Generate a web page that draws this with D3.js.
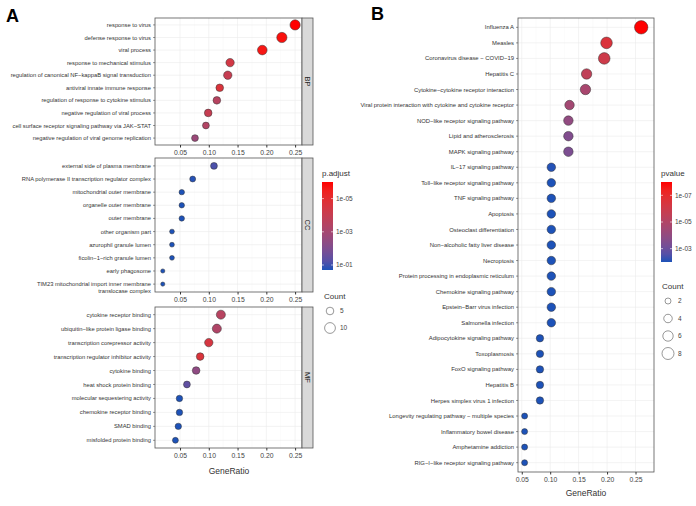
<!DOCTYPE html><html><head><meta charset="utf-8"><script src="https://cdn.jsdelivr.net/npm/d3@7"></script>
<style>body{margin:0;background:#fff}text{font-family:"Liberation Sans",Arial,sans-serif}</style></head><body><svg id="c" width="696" height="506"></svg>
<script>
const bpTerms=["response to virus","defense response to virus","viral process","response to mechanical stimulus","regulation of canonical NF\u2212kappaB signal transduction","antiviral innate immune response","regulation of response to cytokine stimulus","negative regulation of viral process","cell surface receptor signaling pathway via JAK\u2212STAT","negative regulation of viral genome replication"];
const bpRatio=[0.250,0.227,0.193,0.137,0.133,0.119,0.114,0.099,0.095,0.076];
const bpCount=[9,9,8,6,6,5,5,5,4,4];
const bpP=[1e-6,1.5e-6,2e-6,4e-5,1e-4,2e-5,3e-4,1e-4,4e-4,2e-3];
const ccTerms=["external side of plasma membrane","RNA polymerase II transcription regulator complex","mitochondrial outer membrane","organelle outer membrane","outer membrane","other organism part","azurophil granule lumen","ficolin\u22121\u2212rich granule lumen","early phagosome","TIM23 mitochondrial import inner membrane\ntranslocase complex"];
const ccRatio=[0.109,0.072,0.053,0.053,0.053,0.036,0.036,0.036,0.020,0.020];
const ccCount=[4,3,2.5,2.5,2.5,2,2,2,1.5,1.5];
const ccP=[0.08,0.18,0.2,0.2,0.2,0.2,0.2,0.2,0.2,0.2];
const mfTerms=["cytokine receptor binding","ubiquitin\u2212like protein ligase binding","transcription corepressor activity","transcription regulator inhibitor activity","cytokine binding","heat shock protein binding","molecular sequestering activity","chemokine receptor binding","SMAD binding","misfolded protein binding"];
const mfRatio=[0.121,0.114,0.100,0.085,0.078,0.062,0.049,0.049,0.047,0.042];
const mfCount=[7,7,6,5,5,4,3.5,3.5,3.5,3];
const mfP=[3e-4,5e-4,3e-5,2e-5,4e-3,4e-2,0.2,0.2,0.2,0.2];
const aTicks=[0.05,0.10,0.15,0.20,0.25];
const keggTerms=["Influenza A","Measles","Coronavirus disease \u2212 COVID\u221219","Hepatitis C","Cytokine\u2212cytokine receptor interaction","Viral protein interaction with cytokine and cytokine receptor","NOD\u2212like receptor signaling pathway","Lipid and atherosclerosis","MAPK signaling pathway","IL\u221217 signaling pathway","Toll\u2212like receptor signaling pathway","TNF signaling pathway","Apoptosis","Osteoclast differentiation","Non\u2212alcoholic fatty liver disease","Necroptosis","Protein processing in endoplasmic reticulum","Chemokine signaling pathway","Epstein\u2212Barr virus infection","Salmonella infection","Adipocytokine signaling pathway","Toxoplasmosis","FoxO signaling pathway","Hepatitis B","Herpes simplex virus 1 infection","Longevity regulating pathway \u2212 multiple species","Inflammatory bowel disease","Amphetamine addiction","RIG\u2212I\u2212like receptor signaling pathway"];
const keggRatio=[0.26,0.199,0.195,0.164,0.162,0.134,0.132,0.132,0.132,0.102,0.102,0.102,0.102,0.102,0.102,0.102,0.102,0.102,0.102,0.102,0.082,0.082,0.082,0.082,0.082,0.055,0.055,0.055,0.055];
const keggCount=[10,7.5,7.5,6,6,5,5,5,5,4,4,4,4,4,4,4,4,4,4,4,3,3,3,3,3,2,2,2,2];
const keggP=[1e-8,3e-7,1e-6,3e-6,2e-5,3e-5,1e-4,3e-4,4e-4,9e-3,1e-2,1e-2,1e-2,1e-2,1e-2,1e-2,1e-2,1e-2,1e-2,1e-2,1e-2,1e-2,1e-2,1e-2,1e-2,1e-2,1e-2,1e-2,1e-2];
const bTicks=[0.05,0.10,0.15,0.20,0.25];
const aColTicks=["1e-05","1e-03","1e-01"], aColVals=[1e-5,1e-3,1e-1];
const bColTicks=["1e-07","1e-05","1e-03"], bColVals=[1e-7,1e-5,1e-3];
const aSize=[5,10], bSize=[2,4,6,8];

const svg=d3.select("#c");
const LOW="#1d52b8",HIGH="#ff0000";
const interp=d3.interpolateLab(LOW,HIGH);
function colorScale(pmin,pmax){const s=d3.scaleLog().domain([pmax,pmin]).range([0,1]).clamp(true);return p=>interp(s(p));}
const colA=colorScale(1e-6,0.2), colB=colorScale(1e-8,1e-2);
const rA=d3.scaleSqrt().domain([0,10]).range([0,5.4]);
const rB=d3.scaleSqrt().domain([0,8]).range([0,6]);

function panel(g,terms,ratio,count,pv,x,top,bottom,left,right,col,rs,fs,strip,ticks,pad){
  const y=d3.scalePoint().domain(terms).range([top,bottom]).padding(pad);
  g.append("rect").attr("x",left).attr("y",top).attr("width",right-left).attr("height",bottom-top).attr("fill","#fff");
  const gr=g.append("g");
  ticks.forEach(t=>gr.append("line").attr("x1",x(t)).attr("x2",x(t)).attr("y1",top).attr("y2",bottom).attr("stroke","#ebebeb").attr("stroke-width",0.6));
  ticks.slice(0,-1).forEach((t,i)=>{const m=(t+ticks[i+1])/2;gr.append("line").attr("x1",x(m)).attr("x2",x(m)).attr("y1",top).attr("y2",bottom).attr("stroke","#f4f4f4").attr("stroke-width",0.4);});
  terms.forEach(t=>gr.append("line").attr("x1",left).attr("x2",right).attr("y1",y(t)).attr("y2",y(t)).attr("stroke","#ebebeb").attr("stroke-width",0.6));
  terms.forEach((t,i)=>g.append("circle").attr("cx",x(ratio[i])).attr("cy",y(t)).attr("r",rs(count[i])).attr("fill",col(pv[i])).attr("stroke","#333").attr("stroke-width",0.5));
  g.append("rect").attr("x",left).attr("y",top).attr("width",right-left).attr("height",bottom-top).attr("fill","none").attr("stroke","#555").attr("stroke-width",0.8);
  terms.forEach(t=>{const lines=t.split("\n");const tx=g.append("text").attr("x",left-4).attr("y",y(t)+fs*0.35).attr("text-anchor","end").attr("font-size",fs).attr("fill","#333");
    lines.forEach((l,k)=>tx.append("tspan").attr("x",left-4).attr("dy",k?fs*1.25:0).text(l));
    g.append("line").attr("x1",left-2).attr("x2",left).attr("y1",y(t)).attr("y2",y(t)).attr("stroke","#333").attr("stroke-width",0.5);});
  const ax=g.append("g").attr("transform",`translate(0,${bottom})`).call(d3.axisBottom(x).tickValues(ticks).tickFormat(d3.format(".2f")).tickSize(2.5));
  ax.select(".domain").remove();ax.selectAll("text").attr("font-size",6.8).attr("fill","#444").attr("font-family","Liberation Sans");ax.selectAll("line").attr("stroke","#333");
  if(strip){g.append("rect").attr("x",right).attr("y",top).attr("width",11).attr("height",bottom-top).attr("fill","#d9d9d9").attr("stroke","#555").attr("stroke-width",0.8);
    g.append("text").attr("transform",`translate(${right+3},${(top+bottom)/2}) rotate(90)`).attr("text-anchor","middle").attr("font-size",7.5).attr("fill","#222").text(strip);}
}
const xA=d3.scaleLinear().domain([0.0065,0.262]).range([155,302]);
const g=svg.append("g");
panel(g,bpTerms,bpRatio,bpCount,bpP,xA,18,145,155,302,colA,rA,5.8,"BP",aTicks,0.55);
panel(g,ccTerms,ccRatio,ccCount,ccP,xA,158,292,155,302,colA,rA,5.8,"CC",aTicks,0.6);
panel(g,mfTerms,mfRatio,mfCount,mfP,xA,307,448,155,302,colA,rA,5.8,"MF",aTicks,0.55);
g.append("text").attr("x",229).attr("y",474).attr("text-anchor","middle").attr("font-size",8.5).attr("fill","#333").text("GeneRatio");
const xB=d3.scaleLinear().domain([0.0434,0.2825]).range([518,654]);
panel(g,keggTerms,keggRatio,keggCount,keggP,xB,18,472,518,654,colB,rB,5.9,null,bTicks,0.6);
g.append("text").attr("x",586).attr("y",496).attr("text-anchor","middle").attr("font-size",8.5).attr("fill","#333").text("GeneRatio");
g.append("text").attr("x",6).attr("y",22).attr("font-family","Liberation Serif").attr("font-weight","bold").attr("font-size",18).text("A");
g.append("text").attr("x",371).attr("y",20).attr("font-family","Liberation Serif").attr("font-weight","bold").attr("font-size",18).text("B");

function colorbar(x0,y0,h,col,pmin,pmax,labs,vals,title){
  const id="gr"+title.replace(".","");
  const d=svg.append("defs").append("linearGradient").attr("id",id).attr("x1",0).attr("x2",0).attr("y1",0).attr("y2",1);
  d3.range(0,1.001,0.1).forEach(t=>d.append("stop").attr("offset",t).attr("stop-color",interp(1-t)));
  svg.append("text").attr("x",x0).attr("y",y0-6).attr("font-size",8).attr("fill","#333").text(title);
  svg.append("rect").attr("x",x0).attr("y",y0).attr("width",11).attr("height",h).attr("fill",`url(#${id})`);
  const s=d3.scaleLog().domain([pmin,pmax]).range([y0,y0+h]);
  vals.forEach((v,i)=>{svg.append("line").attr("x1",x0).attr("x2",x0+2).attr("y1",s(v)).attr("y2",s(v)).attr("stroke","#fff").attr("stroke-width",0.6);
    svg.append("line").attr("x1",x0+9).attr("x2",x0+11).attr("y1",s(v)).attr("y2",s(v)).attr("stroke","#fff").attr("stroke-width",0.6);
    svg.append("text").attr("x",x0+14).attr("y",s(v)+2.4).attr("font-size",6.5).attr("fill","#444").text(labs[i]);});
}
colorbar(322,182,88,colA,1e-6,0.2,aColTicks,aColVals,"p.adjust");
colorbar(661,182,80,colB,1e-8,1e-2,bColTicks,bColVals,"pvalue");
function sizeLeg(x0,y0,vals,rs,step,title){
  svg.append("text").attr("x",x0).attr("y",y0).attr("font-size",8).attr("fill","#333").text(title);
  vals.forEach((v,i)=>{const cy=y0+12+i*step;svg.append("circle").attr("cx",x0+6).attr("cy",cy).attr("r",rs(v)).attr("fill","none").attr("stroke","#333").attr("stroke-width",0.5);
    svg.append("text").attr("x",x0+16).attr("y",cy+2.4).attr("font-size",6.5).attr("fill","#444").text(v);});
}
sizeLeg(324,299,aSize,rA,17,"Count");
sizeLeg(662,289,bSize,rB,17.5,"Count");
</script></body></html>
